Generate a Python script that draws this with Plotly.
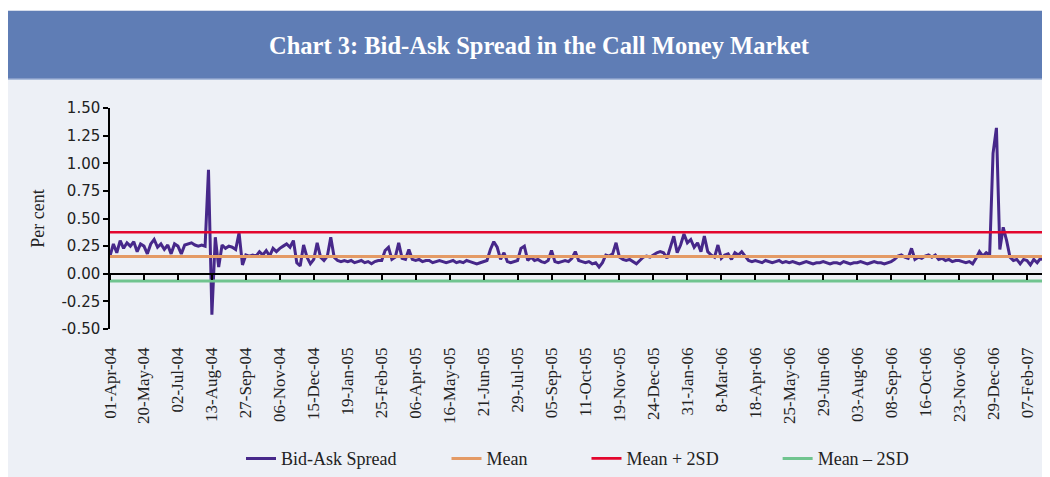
import plotly.graph_objects as go

# ---------------- data ----------------
x_labels = ["01-Apr-04", "20-May-04", "02-Jul-04", "13-Aug-04", "27-Sep-04", "06-Nov-04",
            "15-Dec-04", "19-Jan-05", "25-Feb-05", "06-Apr-05", "16-May-05", "21-Jun-05",
            "29-Jul-05", "05-Sep-05", "11-Oct-05", "19-Nov-05", "24-Dec-05", "31-Jan-06",
            "8-Mar-06", "18-Apr-06", "25-May-06", "29-Jun-06", "03-Aug-06", "08-Sep-06",
            "16-Oct-06", "23-Nov-06", "29-Dec-06", "07-Feb-07"]
obs_per_label = 10

spread_2004 = [
    0.16, 0.27, 0.19, 0.30, 0.23, 0.28, 0.25, 0.29, 0.20, 0.27,
    0.25, 0.18, 0.27, 0.31, 0.24, 0.27, 0.22, 0.26, 0.18, 0.27,
    0.25, 0.18, 0.26, 0.27, 0.28, 0.26, 0.25, 0.26, 0.25, 0.94,
    -0.37, 0.33, 0.06, 0.26, 0.23, 0.25, 0.24, 0.22, 0.37, 0.08,
    0.17, 0.16, 0.17, 0.16, 0.20, 0.17, 0.21, 0.16, 0.23, 0.20,
    0.23, 0.25, 0.27, 0.24, 0.30, 0.10, 0.07, 0.26, 0.15, 0.09,
    0.13, 0.28, 0.15, 0.12, 0.16, 0.33, 0.15, 0.12, 0.11, 0.12,
]
spread_2005 = [
    0.11, 0.12, 0.10, 0.11, 0.12, 0.10, 0.11, 0.09, 0.11, 0.12,
    0.12, 0.21, 0.24, 0.13, 0.15, 0.28, 0.14, 0.13, 0.22, 0.13,
    0.12, 0.13, 0.11, 0.12, 0.12, 0.10, 0.11, 0.12, 0.11, 0.10,
    0.11, 0.12, 0.10, 0.11, 0.10, 0.12, 0.11, 0.10, 0.09, 0.10,
    0.11, 0.12, 0.22, 0.29, 0.24, 0.13, 0.19, 0.11, 0.10, 0.11,
    0.12, 0.23, 0.25, 0.12, 0.15, 0.12, 0.13, 0.11, 0.10, 0.12,
    0.21, 0.11, 0.10, 0.11, 0.12, 0.11, 0.14, 0.20, 0.12, 0.11,
    0.10, 0.11, 0.09, 0.10, 0.06, 0.10, 0.17, 0.16, 0.18, 0.28,
    0.15, 0.13, 0.12, 0.13, 0.11, 0.09, 0.12, 0.15, 0.16, 0.15,
]
spread_2006 = [
    0.17, 0.19, 0.20, 0.19, 0.14, 0.25, 0.34, 0.19, 0.26, 0.36,
    0.28, 0.31, 0.24, 0.28, 0.20, 0.34, 0.20, 0.17, 0.15, 0.26,
    0.14, 0.17, 0.18, 0.13, 0.19, 0.17, 0.20, 0.16, 0.12, 0.11,
    0.12, 0.11, 0.10, 0.12, 0.11, 0.10, 0.11, 0.12, 0.10, 0.11,
    0.10, 0.11, 0.10, 0.09, 0.10, 0.11, 0.10, 0.09, 0.10, 0.10,
    0.11, 0.10, 0.09, 0.10, 0.10, 0.09, 0.11, 0.10, 0.09, 0.10,
    0.10, 0.11, 0.10, 0.09, 0.10, 0.11, 0.10, 0.10, 0.09, 0.10,
    0.11, 0.13, 0.16, 0.17, 0.15, 0.14, 0.23, 0.13, 0.15, 0.14,
    0.16, 0.17, 0.15, 0.17, 0.13, 0.14, 0.12, 0.13, 0.11, 0.12,
    0.12, 0.11, 0.10, 0.11, 0.09, 0.14, 0.20, 0.16, 0.19, 0.17,
    1.09, 1.32, 0.22, 0.42, 0.30, 0.15, 0.12, 0.13, 0.09, 0.13,
    0.12, 0.08, 0.13, 0.10, 0.14, 0.12,
]
mean_val = 0.155
mean_plus_2sd = 0.375
mean_minus_2sd = -0.065

y_tick_vals = [-0.5, -0.25, 0.0, 0.25, 0.5, 0.75, 1.0, 1.25, 1.5]
y_tick_text = ["-0.50", "-0.25", "0.00", "0.25", "0.50", "0.75", "1.00", "1.25", "1.50"]

# ---------------- build ----------------
spread = spread_2004 + spread_2005 + spread_2006
idx = list(range(len(spread)))
tick_pos = [k * obs_per_label for k in range(len(x_labels))]
x_end = len(spread) - 1
x_range = [0, x_end + 0.3]

C_SPREAD = "#47288a"
C_MEAN = "#e49a65"
C_UP = "#e3062d"
C_LOW = "#70c48f"
SERIF = "Liberation Serif"
nb = "\u00a0"

# page body has an 8px margin: work in reference-pixel coordinates, shifted by OFF
OFF = 8
FW, FH = 1050 - OFF, 477 - OFF
L, PW = 110 - OFF, 935
T, PH = 108.3 - OFF, 221


def xp(px):
    return (px - OFF - L) / PW


def yp(py):
    return (T + PH - (py - OFF)) / PH


fig = go.Figure()
fig.add_trace(go.Scatter(x=[0, x_end], y=[mean_val, mean_val], mode="lines", name="Mean" + nb * 12,
                         line=dict(color=C_MEAN, width=3), xaxis="x2", legendrank=2))
fig.add_trace(go.Scatter(x=[0, x_end], y=[mean_plus_2sd, mean_plus_2sd], mode="lines",
                         name="Mean + 2SD" + nb * 12, line=dict(color=C_UP, width=2.6), xaxis="x2",
                         legendrank=3))
fig.add_trace(go.Scatter(x=[0, x_end], y=[mean_minus_2sd, mean_minus_2sd], mode="lines",
                         name="Mean \u2013 2SD", line=dict(color=C_LOW, width=3), xaxis="x2",
                         legendrank=4))
fig.add_trace(go.Scatter(x=idx, y=spread, mode="lines", name="Bid-Ask Spread" + nb * 10,
                         line=dict(color=C_SPREAD, width=3), legendrank=1))

fig.update_layout(
    width=FW, height=FH,
    margin=dict(l=L, r=FW - L - PW, t=T, b=FH - T - PH, autoexpand=False),
    paper_bgcolor="#edf0f6", plot_bgcolor="rgba(0,0,0,0)",
    showlegend=True,
    legend=dict(orientation="h", x=xp(241), y=yp(459), xanchor="left", yanchor="middle",
                font=dict(family=SERIF, size=18, color="#222"), traceorder="normal",
                bgcolor="rgba(0,0,0,0)"),
    xaxis=dict(range=x_range, tickmode="array", tickvals=tick_pos, ticktext=x_labels,
               tickangle=-90, showline=False, ticks="", showgrid=False, zeroline=False,
               ticklabelstandoff=14, automargin=False,
               tickfont=dict(family=SERIF, size=17, color="#222")),
    xaxis2=dict(range=x_range, overlaying="x", anchor="free", position=0.25,
                tickmode="array", tickvals=tick_pos, showticklabels=False,
                ticks="outside", ticklen=5, tickwidth=1.5, tickcolor="black",
                showline=True, linecolor="black", linewidth=1.5, showgrid=False, zeroline=False),
    yaxis=dict(range=[-0.5, 1.5], tickmode="array", tickvals=y_tick_vals, ticktext=y_tick_text,
               showline=True, linecolor="black", linewidth=1.5, ticks="outside", ticklen=5,
               tickwidth=1.5, tickcolor="black", showgrid=False, zeroline=False, automargin=False,
               tickfont=dict(family="DejaVu Sans", size=15, color="#222"),
               title=dict(text="Per cent", font=dict(family=SERIF, size=18, color="#222"),
                          standoff=12)),
    shapes=[
        dict(type="rect", xref="paper", yref="paper", x0=xp(0), x1=xp(1050), y0=yp(11), y1=yp(0),
             fillcolor="white", line=dict(width=0), layer="below"),
        dict(type="rect", xref="paper", yref="paper", x0=xp(5), x1=xp(1050), y0=yp(79), y1=yp(11),
             fillcolor="#5f7db5", line=dict(width=0), layer="below"),
        dict(type="line", xref="paper", yref="paper", x0=xp(5), x1=xp(1050), y0=yp(79.5), y1=yp(79.5),
             line=dict(color="#8fa6cf", width=1), layer="below"),
    ],
    annotations=[
        dict(text="<b>Chart 3: Bid-Ask Spread in the Call Money Market</b>", xref="paper", yref="paper",
             x=xp(539), y=yp(46), showarrow=False, xanchor="center", yanchor="middle",
             font=dict(family=SERIF, size=24.5, color="white"))
    ],
)

fig.write_html("out.html")
